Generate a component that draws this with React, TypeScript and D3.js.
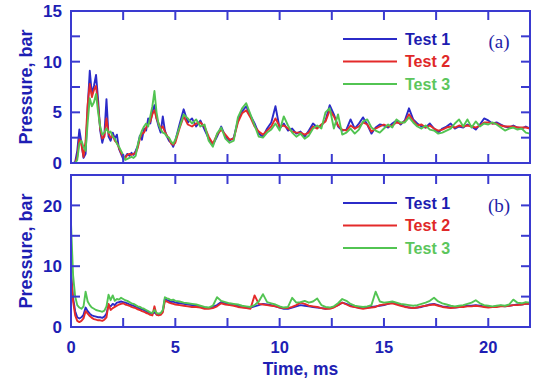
import React from "react";
import * as d3 from "d3";

// Sampling grid (ms): 0.1 ms steps up to 5 ms, then 0.2 ms steps to 22 ms
const timeMs: number[] = [
  ...d3.range(50).map((i) => i / 10),
  ...d3.range(86).map((i) => +(5 + i * 0.2).toFixed(1)),
];

// Panel (a): pressure, bar
const panelATest1 = [
  0, 0, 0.1, 1.2, 3.3, 2.0, 0.5, 0.9, 5.5, 9.1,
  6.8, 7.6, 8.7, 6.2, 3.2, 2.0, 2.8, 6.3, 2.6, 2.2,
  3.0, 2.4, 2.8, 1.4, 0.9, 0.4, 0.6, 0.9, 0.7, 1.0,
  0.8, 1.2, 1.7, 2.7, 2.3, 3.4, 3.2, 4.4, 3.9, 5.1,
  5.7, 4.4, 3.6, 3.0, 4.6, 3.2, 2.6, 2.2, 2.0, 1.6,
  2.2,
  3.8, 5.3, 4.0, 4.4, 3.6, 4.2, 3.3, 2.4, 1.8, 2.6,
  3.6, 2.6, 2.2, 2.5, 4.2, 5.1, 5.6, 4.7, 3.9, 2.9,
  2.6, 3.4, 4.0, 5.6, 3.4, 3.9, 3.2, 3.4, 2.9, 3.1,
  2.6, 3.2, 3.9, 3.5, 3.7, 4.2, 5.7, 4.8, 3.6, 3.2,
  3.3, 4.3, 3.4, 3.9, 4.5, 3.8, 2.9, 3.5, 3.8, 3.7,
  3.5, 3.9, 4.2, 3.8, 4.2, 5.4, 4.3, 3.9, 3.6, 3.5,
  3.9, 3.4, 3.0, 3.4, 3.6, 3.9, 3.4, 3.6, 3.5, 3.8,
  3.6, 3.3, 3.8, 4.4, 4.2, 3.9, 4.0, 3.8, 3.6, 3.5,
  3.7, 3.5, 3.4, 3.6, 3.4,
];
const panelATest2 = [
  0, 0, 0, 0.6, 2.4, 1.8, 0.6, 2.2, 5.8, 7.8,
  6.5, 7.2, 7.6, 5.6, 3.4, 2.4, 2.6, 4.4, 2.9, 2.5,
  2.7, 2.2, 2.0, 1.5, 1.0, 0.6, 0.5, 0.8, 0.9, 0.8,
  0.9, 1.0, 1.5, 2.4, 2.9, 3.0, 3.5, 3.8, 4.1, 4.8,
  5.2, 4.4, 3.9, 3.4, 3.6, 3.1, 2.7, 2.4, 1.9, 1.8,
  2.0,
  3.4, 4.6, 3.8, 3.6, 3.9, 4.0, 3.6, 2.6, 1.9, 2.8,
  3.3, 2.8, 2.3, 2.4, 4.0, 4.9, 5.2, 4.5, 3.6, 3.1,
  2.8, 3.2, 3.6, 4.4, 3.6, 3.7, 3.4, 3.1, 3.0, 3.0,
  2.8, 3.0, 3.6, 3.4, 3.8, 4.1, 5.2, 4.6, 3.7, 3.3,
  3.2, 3.7, 3.4, 3.6, 4.0, 3.8, 3.1, 3.4, 3.6, 3.8,
  3.6, 3.7, 4.0, 3.9, 4.1, 4.8, 4.2, 3.7, 3.8, 3.5,
  3.7, 3.4, 3.2, 3.3, 3.5, 3.6, 3.5, 3.7, 3.6, 3.7,
  3.6, 3.5, 3.7, 4.0, 4.0, 3.9, 3.9, 3.7, 3.6, 3.6,
  3.6, 3.5, 3.5, 3.5, 3.4,
];
const panelATest3 = [
  0, 0, 0, 0.3, 1.9, 2.2, 1.6, 1.2, 4.0, 6.4,
  5.6, 6.0, 6.8, 5.0, 3.6, 2.8, 3.0, 3.4, 3.0, 3.1,
  2.6, 2.4, 1.9, 1.6, 1.2, 0.8, 0.3, 0.4, 0.5, 0.6,
  0.5, 0.7, 1.8, 2.6, 3.2, 3.6, 3.9, 3.6, 4.6, 5.6,
  7.1, 5.0, 3.8, 3.3, 3.0, 2.9, 2.6, 2.5, 2.1, 1.9,
  2.3,
  3.5, 4.8, 4.4, 3.9, 4.3, 3.6, 3.8, 2.2, 1.6, 2.9,
  3.5, 2.4, 2.0, 2.2, 4.5, 5.4, 5.9, 4.8, 3.7, 2.6,
  2.5, 3.0, 3.3, 3.9, 3.2, 4.6, 3.7, 3.0, 2.6, 2.9,
  2.4, 2.7, 3.4, 3.7, 3.4, 5.0, 5.4, 3.4, 4.8, 2.8,
  3.0, 3.4, 2.9, 3.3, 4.1, 4.3, 3.5, 3.2, 3.0, 3.4,
  3.8, 3.5, 4.3, 4.0, 4.0, 4.5, 4.0, 3.6, 3.4, 3.7,
  3.3, 3.2, 2.9, 3.0, 3.2, 3.4, 3.9, 4.3, 3.6, 4.3,
  3.5, 4.1, 3.6, 3.9, 3.8, 4.0, 3.8, 3.5, 3.2, 3.4,
  3.5, 3.3, 3.4, 3.0, 2.9,
];

// Panel (b): pressure, bar
const panelBTest1 = [
  9.0, 4.8, 2.6, 1.6, 1.4, 1.6, 2.0, 3.2, 2.6, 2.2,
  1.9, 1.8, 1.7, 1.6, 1.6, 1.5, 1.7, 2.2, 3.6, 3.4,
  3.8, 3.6, 4.0, 4.1, 4.2, 4.1, 4.0, 3.9, 3.7, 3.6,
  3.5, 3.3, 3.2, 3.0, 2.9, 2.8, 2.6, 2.4, 2.3, 2.2,
  2.4, 2.1, 2.0, 2.2, 2.6, 4.6, 4.4, 4.3, 4.1, 4.2,
  4.0,
  3.9, 3.8, 3.7, 3.6, 3.5, 3.4, 3.2, 3.1, 3.3, 3.6,
  4.1, 3.9, 3.7, 3.6, 3.5, 3.3, 3.2, 3.2, 3.4, 3.6,
  3.8, 3.7, 3.6, 3.4, 3.2, 3.0, 3.0, 3.2, 3.4, 3.6,
  3.5, 3.4, 3.3, 3.2, 3.1, 3.0, 3.1, 3.3, 3.6, 4.0,
  3.8, 3.5, 3.3, 3.2, 3.1, 3.2, 3.3, 3.4, 3.5, 3.6,
  3.8, 4.0, 3.8, 3.6, 3.4, 3.2, 3.1, 3.2, 3.3, 3.5,
  3.7, 3.8, 3.6, 3.4, 3.3, 3.2, 3.2, 3.3, 3.4, 3.5,
  3.5, 3.6, 3.5, 3.4, 3.3, 3.3, 3.4, 3.5, 3.4, 3.5,
  3.6, 3.7, 3.7, 3.8, 3.8,
];
const panelBTest2 = [
  8.5, 4.2, 1.9, 1.0, 0.8, 1.0, 1.4, 2.6, 2.2, 1.8,
  1.5, 1.3, 1.2, 1.1, 1.1, 1.0, 1.2, 1.6, 3.8, 2.8,
  3.1, 3.3, 3.5, 3.7, 3.8, 3.9, 3.7, 3.6, 3.5, 3.3,
  3.2, 3.1, 2.9, 2.8, 2.6, 2.5, 2.3, 2.2, 2.0, 1.9,
  3.4, 2.0, 1.9, 2.0, 2.4, 4.3, 4.2, 4.0, 3.9, 3.8,
  3.7,
  3.6, 3.5, 3.4, 3.3, 3.3, 3.2, 3.0, 3.0, 3.1, 3.4,
  3.9, 3.7, 3.6, 3.5, 3.3, 3.2, 3.1, 3.0, 5.2, 3.8,
  3.7, 3.6, 3.5, 3.4, 3.2, 3.1, 3.1, 3.3, 3.6, 4.0,
  3.8, 3.5, 3.4, 3.3, 3.1, 3.0, 3.0, 3.2, 3.6, 4.0,
  3.7, 3.4, 3.3, 3.1, 3.0, 3.1, 3.2, 3.3, 3.6, 3.7,
  3.8, 3.9, 3.7, 3.5, 3.3, 3.2, 3.1, 3.2, 3.4, 3.5,
  3.6, 3.7, 3.5, 3.3, 3.2, 3.1, 3.2, 3.3, 3.3, 3.4,
  3.4, 3.5, 3.4, 3.3, 3.2, 3.3, 3.3, 3.4, 3.4, 3.5,
  3.6, 3.6, 3.7, 3.8, 3.8,
];
const panelBTest3 = [
  17.0, 8.5, 5.0, 3.6, 3.2, 3.0, 3.4, 5.8, 4.2, 3.6,
  3.2, 3.0, 2.8, 2.7, 2.6, 2.5, 2.7, 3.4, 5.3, 4.4,
  5.2, 4.3, 4.6, 4.5, 4.8, 4.6, 4.4, 4.3, 4.1, 3.9,
  3.8, 3.6, 3.4, 3.3, 3.1, 3.0, 2.8, 2.6, 2.4, 2.3,
  2.8, 2.3, 2.2, 2.3, 2.8, 4.9, 4.7, 4.6, 4.4, 4.5,
  4.3,
  4.2, 4.0, 3.9, 3.8, 3.7, 3.5, 3.3, 3.2, 3.5, 4.9,
  4.3, 4.1, 3.9, 3.8, 3.7, 3.5, 3.4, 3.3, 3.6, 4.2,
  5.4, 4.1, 3.9, 3.7, 3.4, 3.2, 3.3, 4.8, 4.0, 4.1,
  4.3, 4.0, 4.2, 4.7, 3.6, 3.3, 3.2, 3.4, 3.9, 4.6,
  4.3, 3.8, 3.5, 3.4, 3.3, 3.4, 3.6, 5.8, 4.2, 4.0,
  4.1, 4.2, 4.0, 3.8, 3.7, 3.6, 3.5, 3.6, 3.8, 4.0,
  4.3, 4.8, 4.2, 3.9, 3.7, 3.5, 3.4, 3.5, 3.6, 3.8,
  4.0, 4.4, 3.9, 3.6, 3.5, 3.4, 3.5, 3.6, 3.5, 3.7,
  4.5, 4.0, 3.9, 4.1, 4.0,
];

const seriesNames = ["Test 1", "Test 2", "Test 3"];
const lineColors = ["#2b2bc8", "#e42a2a", "#52c452"];
const legendTextColors = ["#1c1cb0", "#e02828", "#5cc65c"];

const xTickLabels = [0, 5, 10, 15, 20];
const panelAYLabels = [0, 5, 10, 15];
const panelBYLabels = [0, 10, 20];

const W = 537;
const H = 385;
const plotLeft = 71;
const plotRight = 530;
const frameColor = "#3a3ad0";
const labelColor = "#1e1eb4";
const sansFont = "'Liberation Sans', Arial, sans-serif";

const xScale = d3.scaleLinear().domain([0, 22]).range([plotLeft, plotRight]);

type PanelProps = {
  top: number;
  bottom: number;
  yMax: number;
  yTickStep: number;
  yLabels: number[];
  data: number[][];
  tag: string;
  showXLabels: boolean;
};

function Panel({ top, bottom, yMax, yTickStep, yLabels, data, tag, showXLabels }: PanelProps) {
  const yScale = d3.scaleLinear().domain([0, yMax]).range([bottom, top]);
  const line = d3
    .line<number>()
    .x((_, i) => xScale(timeMs[i]))
    .y((v) => yScale(v));
  const xTicks = d3.range(0, 22.01, 2.5);
  const yTicks = d3.range(0, yMax + 0.01, yTickStep);
  const tickLen = 9;
  const clipId = `clip-${tag}`;
  const legendY0 = top + 28;
  const legendGap = 22.5;

  return (
    <g>
      <defs>
        <clipPath id={clipId}>
          <rect x={plotLeft} y={top} width={plotRight - plotLeft} height={bottom - top} />
        </clipPath>
      </defs>
      <g clipPath={`url(#${clipId})`}>
        {data.map((vals, k) => (
          <path
            key={k}
            d={line(vals) ?? ""}
            fill="none"
            stroke={lineColors[k]}
            strokeWidth={1.9}
            strokeLinejoin="round"
          />
        ))}
      </g>
      {/* ticks on all four sides, pointing inward */}
      {xTicks.map((t) => (
        <g key={`xt${t}`} stroke={frameColor} strokeWidth={2}>
          <line x1={xScale(t)} x2={xScale(t)} y1={bottom} y2={bottom - tickLen} />
          <line x1={xScale(t)} x2={xScale(t)} y1={top} y2={top + tickLen} />
        </g>
      ))}
      {yTicks.map((v) => (
        <g key={`yt${v}`} stroke={frameColor} strokeWidth={2}>
          <line x1={plotLeft} x2={plotLeft + tickLen} y1={yScale(v)} y2={yScale(v)} />
          <line x1={plotRight} x2={plotRight - tickLen} y1={yScale(v)} y2={yScale(v)} />
        </g>
      ))}
      <rect
        x={plotLeft}
        y={top}
        width={plotRight - plotLeft}
        height={bottom - top}
        fill="none"
        stroke={frameColor}
        strokeWidth={2}
      />
      {yLabels.map((v) => (
        <text
          key={`yl${v}`}
          x={62}
          y={yScale(v)}
          dy="0.36em"
          textAnchor="end"
          fontFamily={sansFont}
          fontWeight="bold"
          fontSize={17}
          fill={labelColor}
        >
          {v}
        </text>
      ))}
      {showXLabels &&
        xTickLabels.map((t) => (
          <text
            key={`xl${t}`}
            x={xScale(t)}
            y={bottom + 26}
            textAnchor="middle"
            fontFamily={sansFont}
            fontWeight="bold"
            fontSize={16.5}
            fill={labelColor}
          >
            {t}
          </text>
        ))}
      <text
        transform={`translate(32,${(top + bottom) / 2}) rotate(-90)`}
        textAnchor="middle"
        fontFamily={sansFont}
        fontWeight="bold"
        fontSize={18}
        fill={labelColor}
      >
        Pressure, bar
      </text>
      {seriesNames.map((name, k) => (
        <g key={name}>
          <line
            x1={343}
            x2={397}
            y1={legendY0 + k * legendGap}
            y2={legendY0 + k * legendGap}
            stroke={lineColors[k]}
            strokeWidth={1.9}
          />
          <text
            x={405}
            y={legendY0 + k * legendGap}
            dy="0.36em"
            fontFamily={sansFont}
            fontWeight="bold"
            fontSize={16}
            fill={legendTextColors[k]}
          >
            {name}
          </text>
        </g>
      ))}
      <text
        x={499}
        y={top + 37}
        textAnchor="middle"
        fontFamily="'Liberation Serif', 'Times New Roman', serif"
        fontSize={19}
        fill="#2323a8"
      >
        {`(${tag})`}
      </text>
    </g>
  );
}

export default function App() {
  return (
    <svg
      width={W}
      height={H}
      viewBox={`0 0 ${W} ${H}`}
      style={{ position: "absolute", left: 0, top: 0, background: "#ffffff" }}
    >
      <Panel
        top={11}
        bottom={163}
        yMax={15}
        yTickStep={2.5}
        yLabels={panelAYLabels}
        data={[panelATest1, panelATest2, panelATest3]}
        tag="a"
        showXLabels={false}
      />
      <Panel
        top={175}
        bottom={327}
        yMax={25}
        yTickStep={5}
        yLabels={panelBYLabels}
        data={[panelBTest1, panelBTest2, panelBTest3]}
        tag="b"
        showXLabels={true}
      />
      <text
        x={(plotLeft + plotRight) / 2}
        y={375}
        textAnchor="middle"
        fontFamily={sansFont}
        fontWeight="bold"
        fontSize={17.5}
        fill={labelColor}
      >
        Time, ms
      </text>
    </svg>
  );
}
